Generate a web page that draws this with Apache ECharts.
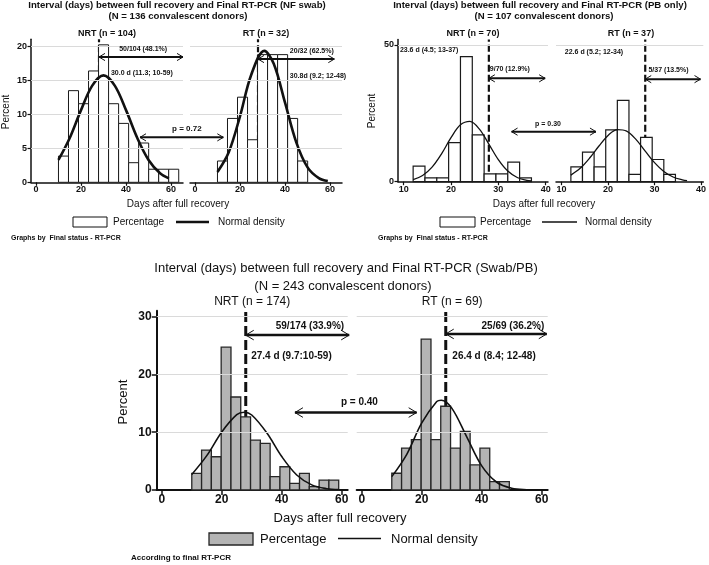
<!DOCTYPE html>
<html><head><meta charset="utf-8">
<script src="https://cdn.jsdelivr.net/npm/echarts@6/dist/echarts.min.js"></script>
<style>html,body{margin:0;padding:0;background:#fff}#c{width:709px;height:565px}</style>
</head><body><div id="c"></div>
<script>
// ---------------- DATA ----------------
const cutoffDay = 28;
// Top-left: NF swab
const nfEdges = [10, 14.45, 18.9, 23.35, 27.8, 32.25, 36.7, 41.15, 45.6, 50.05, 54.5, 58.95, 63.4];
const nfNrtPct = [3.85, 13.46, 11.54, 16.35, 20.19, 11.54, 8.65, 2.88, 5.77, 1.92, 1.92, 1.92];
const nfRtPct = [3.13, 9.38, 12.5, 6.25, 18.75, 18.75, 18.75, 9.38, 3.13];
const nfNrtCurveX = [10, 15, 20, 25, 30, 35, 40, 45, 50, 55, 59];
const nfNrtCurveY = [3.28, 6.5, 10.6, 14.2, 15.7, 14.2, 10.6, 6.5, 3.28, 1.36, 0.58];
const nfRtCurveX = [10, 15, 20, 25, 30.8, 35, 40, 45, 50, 55, 59];
const nfRtCurveY = [1.5, 4.41, 9.69, 15.8, 19.3, 17.4, 11.7, 5.87, 2.19, 0.61, 0.18];
const nfXTicks = [0, 20, 40, 60];
const nfYTicks = [0, 5, 10, 15, 20];
// Top-right: PB only
const pbEdges = [12, 14.5, 17, 19.5, 22, 24.5, 27, 29.5, 32, 34.5, 37];
const pbNrtPct = [5.71, 1.43, 1.43, 14.29, 45.71, 17.14, 2.86, 2.86, 7.14, 1.43];
const pbRtPct = [5.41, 10.81, 5.41, 18.92, 29.73, 2.70, 16.22, 8.11, 2.70];
const pbCurveX = [12, 14, 16, 18, 20, 22, 24, 26, 28, 30, 32, 34, 36, 37];
const pbNrtCurveY = [0.80, 2.28, 5.33, 10.2, 16.1, 20.8, 22.07, 19.22, 13.74, 8.06, 3.88, 1.53, 0.50, 0.26];
const pbRtCurveY = [2.40, 4.88, 8.57, 12.97, 16.93, 19.05, 18.5, 15.49, 11.19, 6.97, 3.74, 1.73, 0.69, 0.41];
const pbXTicks = [10, 20, 30, 40];
const pbYTicks = [0, 50];
// Bottom: Swab/PB
const allEdges = [10, 13.27, 16.53, 19.8, 23.07, 26.33, 29.6, 32.87, 36.13, 39.4, 42.67, 45.93, 49.2, 52.47, 55.73, 59];
const allNrtPct = [2.87, 6.90, 5.75, 24.71, 16.09, 12.64, 8.62, 8.05, 2.30, 4.02, 1.15, 2.87, 0.57, 1.72, 1.72];
const allRtPct = [2.90, 7.25, 8.70, 26.09, 8.70, 14.49, 7.25, 10.14, 4.35, 7.25, 1.45, 1.45];
const allNrtCurveX = [10, 15, 20, 25, 27.5, 30, 35, 40, 45, 50, 55, 59];
const allNrtCurveY = [2.69, 5.94, 10.05, 13.04, 13.44, 12.97, 9.89, 5.78, 2.59, 0.89, 0.23, 0.07];
const allRtCurveX = [10, 15, 20, 25, 26.5, 30, 35, 40, 45, 50, 55, 59];
const allRtCurveY = [2.31, 6.18, 11.61, 15.30, 15.52, 14.16, 9.19, 4.18, 1.34, 0.30, 0.05, 0.01];
const allXTicks = [0, 20, 40, 60];
const allYTicks = [0, 10, 20, 30];

// ---------------- LAYOUT ----------------
const FONT = '"Liberation Sans", Arial, Helvetica, sans-serif';
const INK = '#111';
const grids = [
  {left: 31, top: 39.3, width: 152, height: 143},
  {left: 190, top: 39.3, width: 152, height: 143},
  {left: 398, top: 39.5, width: 150, height: 142.2},
  {left: 556, top: 39.5, width: 150, height: 142.2},
  {left: 156.7, top: 310.8, width: 191, height: 179.2},
  {left: 356.7, top: 310.8, width: 191, height: 179.2}
];
const xRanges = [[-2.2, 65.3], [-2.2, 65.3], [8.8, 40.5], [8.8, 40.5], [-1.7, 62], [-1.7, 62]];
const yRanges = [[0, 21], [0, 21], [0, 52], [0, 52], [0, 31], [0, 31]];
const xTickSets = [nfXTicks, nfXTicks, pbXTicks, pbXTicks, allXTicks, allXTicks];
const yTickSets = [nfYTicks, null, pbYTicks, null, allYTicks, null];
const isBottom = g => g >= 4;

const chart = echarts.init(document.getElementById('c'), null, {renderer: 'canvas'});

const xAxes = grids.map((gr, g) => ({
  gridIndex: g, type: 'value', min: xRanges[g][0], max: xRanges[g][1],
  axisLine: {show: true, onZero: false, lineStyle: {color: INK, width: isBottom(g) ? 2 : 1.5}},
  axisTick: {show: true, customValues: xTickSets[g], length: isBottom(g) ? 5 : 3.5, lineStyle: {color: INK, width: isBottom(g) ? 1.5 : 1.2}},
  axisLabel: {show: true, customValues: xTickSets[g], color: INK, fontFamily: FONT, fontWeight: 'bold',
    fontSize: isBottom(g) ? 12 : 9, margin: isBottom(g) ? 4 : 3},
  splitLine: {show: false}
}));
const yAxes = grids.map((gr, g) => {
  const has = !!yTickSets[g];
  return {
    gridIndex: g, type: 'value', min: yRanges[g][0], max: yRanges[g][1],
    axisLine: {show: has, onZero: false, lineStyle: {color: INK, width: isBottom(g) ? 2 : 1.5}},
    axisTick: {show: has, customValues: yTickSets[g] || [], length: isBottom(g) ? 5 : 3.5, lineStyle: {color: INK, width: isBottom(g) ? 1.5 : 1.2}},
    axisLabel: {show: has, customValues: yTickSets[g] || [], color: INK, fontFamily: FONT, fontWeight: 'bold',
      fontSize: isBottom(g) ? 12 : 9, margin: isBottom(g) ? 5 : 4},
    splitLine: {show: false}
  };
});

function barSeries(g, edges, pct, fill, stroke, lw) {
  return {
    type: 'custom', xAxisIndex: g, yAxisIndex: g, z: 2, silent: true,
    data: pct.map((v, i) => [edges[i], edges[i + 1], v]),
    encode: {x: [0, 1], y: 2},
    renderItem: (params, api) => {
      const a = api.coord([api.value(0), api.value(2)]);
      const b = api.coord([api.value(1), 0]);
      return {type: 'rect', shape: {x: a[0], y: a[1], width: b[0] - a[0], height: b[1] - a[1]},
        style: {fill: fill, stroke: stroke, lineWidth: lw}};
    }
  };
}
function curveSeries(g, xs, ys, w) {
  return {type: 'line', xAxisIndex: g, yAxisIndex: g, z: 3, silent: true, smooth: 0.35,
    symbol: 'none', showSymbol: false, data: xs.map((x, i) => [x, ys[i]]),
    lineStyle: {color: INK, width: w}};
}
function cutoffSeries(g, gridY, w, dash) {
  return {type: 'line', xAxisIndex: g, yAxisIndex: g, z: 1, silent: true, symbol: 'none',
    data: [[cutoffDay, 0], [cutoffDay, yRanges[g][1]]],
    lineStyle: {color: INK, width: w, type: dash},
    markLine: {silent: true, symbol: 'none', label: {show: false}, animation: false,
      lineStyle: {color: '#dadada', width: 1, type: 'solid'},
      data: gridY.map(v => ({yAxis: v}))}};
}

const topBarFill = '#ffffff', topBarStroke = '#1a1a1a';
const botBarFill = '#b4b4b4', botBarStroke = '#262626';
const series = [
  cutoffSeries(0, [5, 10, 15, 20], 2.2, [7, 3]),
  cutoffSeries(1, [5, 10, 15, 20], 2.2, [7, 3]),
  cutoffSeries(2, [50], 2.2, [7, 3]),
  cutoffSeries(3, [50], 2.2, [7, 3]),
  cutoffSeries(4, [10, 20, 30], 3, [10, 4]),
  cutoffSeries(5, [10, 20, 30], 3, [10, 4]),
  barSeries(0, nfEdges, nfNrtPct, topBarFill, topBarStroke, 1),
  barSeries(1, nfEdges, nfRtPct, topBarFill, topBarStroke, 1),
  barSeries(2, pbEdges, pbNrtPct, topBarFill, topBarStroke, 1.2),
  barSeries(3, pbEdges, pbRtPct, topBarFill, topBarStroke, 1.2),
  barSeries(4, allEdges, allNrtPct, botBarFill, botBarStroke, 1.3),
  barSeries(5, allEdges, allRtPct, botBarFill, botBarStroke, 1.3),
  curveSeries(0, nfNrtCurveX, nfNrtCurveY, 2.6),
  curveSeries(1, nfRtCurveX, nfRtCurveY, 2.6),
  curveSeries(2, pbCurveX, pbNrtCurveY, 1.3),
  curveSeries(3, pbCurveX, pbRtCurveY, 1.3),
  curveSeries(4, allNrtCurveX, allNrtCurveY, 1.6),
  curveSeries(5, allRtCurveX, allRtCurveY, 1.6)
];

chart.setOption({
  animation: false,
  backgroundColor: '#ffffff',
  textStyle: {fontFamily: FONT},
  grid: grids,
  xAxis: xAxes,
  yAxis: yAxes,
  series: series
});

// ---------------- ANNOTATIONS (positioned through the axes) ----------------
const P = (g, x, y) => chart.convertToPixel({gridIndex: g}, [x, y]);
const G = [];
function txt(x, y, s, size, weight, align, rot) {
  G.push({type: 'text', x: x, y: y, rotation: rot || 0, silent: true, z: 20,
    style: {text: s, font: weight + ' ' + size + 'px ' + FONT, fill: INK,
      align: align, textAlign: align, verticalAlign: 'middle', textVerticalAlign: 'middle'}});
}
function arrow(p1, p2, w, hs) {
  const y = p1[1];
  G.push({type: 'line', silent: true, z: 20, shape: {x1: p1[0], y1: y, x2: p2[0], y2: y}, style: {stroke: INK, lineWidth: w}});
  G.push({type: 'polyline', silent: true, z: 20, shape: {points: [[p1[0] + hs, y - hs * 0.6], [p1[0], y], [p1[0] + hs, y + hs * 0.6]]}, style: {stroke: INK, lineWidth: 1, fill: null}});
  G.push({type: 'polyline', silent: true, z: 20, shape: {points: [[p2[0] - hs, y - hs * 0.6], [p2[0], y], [p2[0] - hs, y + hs * 0.6]]}, style: {stroke: INK, lineWidth: 1, fill: null}});
}
function gridCenter(g) { return grids[g].left + grids[g].width / 2; }

// Top-left figure
txt(177, 5.5, 'Interval (days) between full recovery and Final RT-PCR (NF swab)', 9.6, 'bold', 'center');
txt(178, 16, '(N = 136 convalescent donors)', 9.6, 'bold', 'center');
txt(gridCenter(0), 33.5, 'NRT (n = 104)', 9, 'bold', 'center');
txt(gridCenter(1), 33.5, 'RT (n = 32)', 9, 'bold', 'center');
txt(6, 112, 'Percent', 10, 'normal', 'center', Math.PI / 2);
txt(178, 204, 'Days after full recovery', 10, 'normal', 'center');
arrow(P(0, cutoffDay, 18.4), P(0, 65.3, 18.4), 2, 6);
txt(...P(0, 47.6, 19.6), '50/104 (48.1%)', 7, 'bold', 'center');
txt(...P(0, 33.3, 16.0), '30.0 d (11.3; 10-59)', 7, 'bold', 'left');
arrow(P(0, 46.2, 6.6), [P(1, 12.6, 6.6)[0], 0], 2, 6);
txt(...P(0, 67, 7.8), 'p = 0.72', 8, 'bold', 'center');
arrow(P(1, cutoffDay, 18.1), P(1, 61.9, 18.1), 2, 6);
txt(...P(1, 51.9, 19.2), '20/32 (62.5%)', 7, 'bold', 'center');
txt(...P(1, 42.1, 15.6), '30.8d (9.2; 12-48)', 7, 'bold', 'left');
G.push({type: 'rect', silent: true, z: 20, shape: {x: 73, y: 217, width: 34, height: 10}, style: {fill: '#fff', stroke: INK, lineWidth: 1}});
txt(113, 222, 'Percentage', 10, 'normal', 'left');
G.push({type: 'line', silent: true, z: 20, shape: {x1: 176, y1: 222, x2: 209, y2: 222}, style: {stroke: INK, lineWidth: 2.6}});
txt(218, 222, 'Normal density', 10, 'normal', 'left');
txt(11, 238, 'Graphs by  Final status - RT-PCR', 7, 'bold', 'left');

// Top-right figure
txt(540, 5.5, 'Interval (days) between full recovery and Final RT-PCR (PB only)', 9.6, 'bold', 'center');
txt(544, 16, '(N = 107 convalescent donors)', 9.6, 'bold', 'center');
txt(gridCenter(2), 33.5, 'NRT (n = 70)', 9, 'bold', 'center');
txt(gridCenter(3), 33.5, 'RT (n = 37)', 9, 'bold', 'center');
txt(372, 111, 'Percent', 10, 'normal', 'center', Math.PI / 2);
txt(544, 204, 'Days after full recovery', 10, 'normal', 'center');
txt(...P(2, 9.2, 48.2), '23.6 d (4.5; 13-37)', 7, 'bold', 'left');
txt(...P(2, 28.2, 41.2), '9/70 (12.9%)', 7, 'bold', 'left');
arrow(P(2, cutoffDay, 37.8), P(2, 39.9, 37.8), 2, 6);
arrow(P(2, 32.8, 18.3), [P(3, 17.4, 18.3)[0], 0], 2, 6);
txt(...P(2, 40.5, 21), 'p = 0.30', 7, 'bold', 'center');
txt(...P(3, 10.7, 47.3), '22.6 d (5.2; 12-34)', 7, 'bold', 'left');
txt(...P(3, 28.7, 40.9), '5/37 (13.5%)', 7, 'bold', 'left');
arrow(P(3, cutoffDay, 37.5), P(3, 39.9, 37.5), 2, 6);
G.push({type: 'rect', silent: true, z: 20, shape: {x: 440, y: 217, width: 35, height: 10}, style: {fill: '#fff', stroke: INK, lineWidth: 1}});
txt(480, 222, 'Percentage', 10, 'normal', 'left');
G.push({type: 'line', silent: true, z: 20, shape: {x1: 542, y1: 222, x2: 577, y2: 222}, style: {stroke: INK, lineWidth: 1.3}});
txt(585, 222, 'Normal density', 10, 'normal', 'left');
txt(378, 238, 'Graphs by  Final status - RT-PCR', 7, 'bold', 'left');

// Bottom figure
txt(346, 268, 'Interval (days) between full recovery and Final RT-PCR (Swab/PB)', 13, 'normal', 'center');
txt(343, 286, '(N = 243 convalescent donors)', 13, 'normal', 'center');
txt(gridCenter(4), 302, 'NRT (n = 174)', 12, 'normal', 'center');
txt(gridCenter(5), 302, 'RT (n = 69)', 12, 'normal', 'center');
txt(123, 402, 'Percent', 13, 'normal', 'center', Math.PI / 2);
txt(340, 518, 'Days after full recovery', 13, 'normal', 'center');
txt(...P(4, 49.4, 28.3), '59/174 (33.9%)', 10, 'bold', 'center');
arrow(P(4, cutoffDay, 26.8), P(4, 62.5, 26.8), 2.5, 8);
txt(...P(4, 29.8, 23.2), '27.4 d (9.7:10-59)', 10, 'bold', 'left');
arrow(P(4, 44.4, 13.4), [P(5, 18.3, 13.4)[0], 0], 2.5, 8);
txt(...P(4, 65.9, 15.2), 'p = 0.40', 10, 'bold', 'center');
txt(...P(5, 50.4, 28.4), '25/69 (36.2%)', 10, 'bold', 'center');
arrow(P(5, cutoffDay, 27.0), P(5, 61.7, 27.0), 2.5, 8);
txt(...P(5, 30.2, 23.2), '26.4 d (8.4; 12-48)', 10, 'bold', 'left');
G.push({type: 'rect', silent: true, z: 20, shape: {x: 209, y: 533, width: 44, height: 12}, style: {fill: botBarFill, stroke: botBarStroke, lineWidth: 1.3}});
txt(260, 539, 'Percentage', 13, 'normal', 'left');
G.push({type: 'line', silent: true, z: 20, shape: {x1: 338, y1: 538.5, x2: 381, y2: 538.5}, style: {stroke: INK, lineWidth: 1.6}});
txt(391, 539, 'Normal density', 13, 'normal', 'left');
txt(131, 558, 'According to final RT-PCR', 8, 'bold', 'left');

// cross-panel arrows: right end shares the row of the left end
G.forEach(e => {
  if (e.type === 'line' && e.shape.y2 === 0) e.shape.y2 = e.shape.y1;
});
for (let i = 0; i < G.length; i++) {
  const e = G[i];
  if (e.type === 'polyline') {
    const pts = e.shape.points;
    if (pts[1][1] === 0) {
      const yy = G[i - 2].shape.y1;
      const hs = (pts[1][0] - pts[0][0]);
      e.shape.points = [[pts[0][0], yy - hs * 0.6], [pts[1][0], yy], [pts[2][0], yy + hs * 0.6]];
    }
  }
}
chart.setOption({graphic: G});
</script></body></html>
